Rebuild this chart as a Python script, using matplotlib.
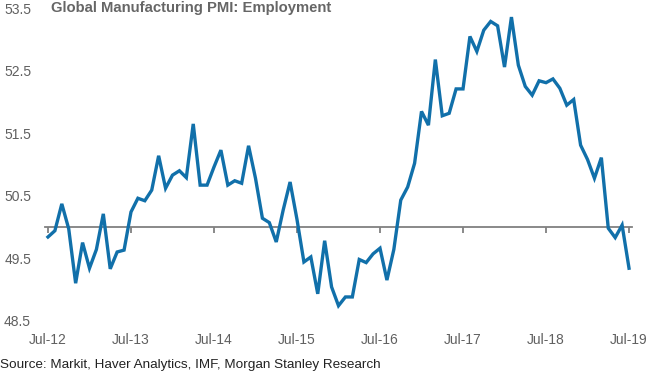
import numpy as np
import matplotlib.pyplot as plt

plt.rcParams['font.family'] = ['Liberation Sans', 'DejaVu Sans']

# monthly readings, Jul-12 .. Jul-19
pmi_emp = [49.84, 49.94, 50.37, 49.97, 49.10, 49.75, 49.34, 49.64, 50.21, 49.33,
           49.60, 49.63, 50.24, 50.46, 50.42, 50.59, 51.14, 50.62, 50.83, 50.90,
           50.79, 51.65, 50.67, 50.67, 50.96, 51.23, 50.67, 50.74, 50.70, 51.30,
           50.78, 50.14, 50.07, 49.76, 50.27, 50.72, 50.12, 49.44, 49.52, 48.93,
           49.78, 49.04, 48.74, 48.88, 48.88, 49.48, 49.43, 49.57, 49.66, 49.15,
           49.64, 50.43, 50.64, 51.02, 51.85, 51.63, 52.68, 51.78, 51.82, 52.21,
           52.21, 53.05, 52.81, 53.15, 53.29, 53.22, 52.56, 53.36, 52.59, 52.25,
           52.11, 52.34, 52.31, 52.37, 52.22, 51.95, 52.04, 51.31, 51.08, 50.78,
           51.11, 49.98, 49.83, 50.03, 49.34]
months = np.arange(len(pmi_emp))
tick_pos = [0, 12, 24, 36, 48, 60, 72, 84]
tick_labels = ['Jul-12', 'Jul-13', 'Jul-14', 'Jul-15', 'Jul-16', 'Jul-17', 'Jul-18', 'Jul-19']
y_ticks = [48.5, 49.5, 50.5, 51.5, 52.5, 53.5]

fig = plt.figure(figsize=(6.5, 3.75), dpi=100)
ax = fig.add_axes([45/650, 0.1448, 587/650, 0.833])

ax.plot(months, pmi_emp, color='#1170aa', linewidth=2.4, solid_joinstyle='miter')
ax.set_xlim(-0.43, 84.43)
ax.set_ylim(48.5, 53.5)

for s in ax.spines.values():
    s.set_visible(False)

ax.set_yticks(y_ticks)
ax.set_yticklabels([f'{v:.1f}' for v in y_ticks])
ax.tick_params(axis='y', length=0, pad=10, labelsize=10, labelcolor='#606060')
ax.set_xticks(tick_pos)
ax.set_xticklabels(tick_labels)
ax.tick_params(axis='x', length=0, pad=9, labelsize=10, labelcolor='#606060')

# axis line crossing at 50 with tick marks
sec = ax.secondary_xaxis(0.3)
sec.set_xticks(tick_pos)
sec.set_xticklabels([])
sec.spines['bottom'].set_color('#808080')
sec.spines['bottom'].set_linewidth(1.3)
sec.tick_params(length=4, width=1.3, color='#808080', direction='out')

ax.text(0.01, 1.0, 'Global Manufacturing PMI: Employment', transform=ax.transAxes,
        ha='left', va='center', fontsize=10.7, fontweight='bold', color='#666666')

fig.text(0.0, (375 - 365) / 375, 'Source: Markit, Haver Analytics, IMF, Morgan Stanley Research',
         ha='left', va='center', fontsize=9.7, color='#222222')

fig.savefig('out.png', dpi=100)
